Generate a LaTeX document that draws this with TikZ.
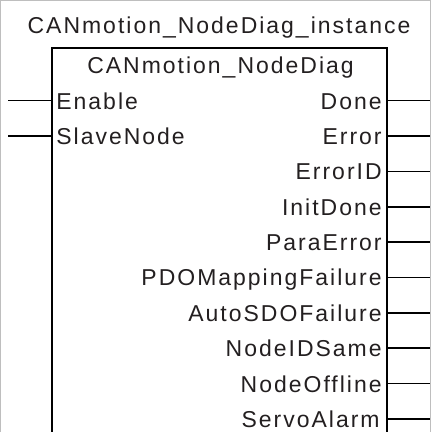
\documentclass[tikz,border=0pt]{standalone}
\usepackage{fontspec}
\setmainfont{Liberation Sans}[LetterSpace=8.7]
\usetikzlibrary{positioning}

\definecolor{fbtext}{RGB}{35,31,32}
\definecolor{fbedge}{RGB}{190,190,190}

\tikzset{
    fb_font/.style={font=\fontsize{23}{25}\selectfont, text=fbtext, inner sep=0pt},
    fb_pin/.style={line width=1.6pt, black},
    fb_box/.style={line width=1.6pt, black}
}

\begin{document}
\begin{tikzpicture}[x=1pt,y=-1pt]

% cornice
\draw[fbedge, line width=0.4pt] (0,0) rectangle (430,432);
\useasboundingbox (0,0) rectangle (430,432);

% nomi
\node[fb_font, anchor=base] (inst) at (219,33.3) {CANmotion\_NodeDiag\_instance};
\node[fb_font, anchor=base] (fbname) at (220.5,73.3) {CANmotion\_NodeDiag};

% blocco
\coordinate (tl) at (52,48);
\coordinate (tr) at (387,48);
\coordinate (bl) at (52,440);
\coordinate (br) at (387,440);
\draw[fb_box] (bl) -- (tl) -- (tr) -- (br);

% ingressi
\node[fb_font, anchor=base west] (enable) at (56,109.5) {Enable};
\coordinate (enable_in) at (8,100.5);
\draw[fb_pin] (enable_in) -- (enable_in -| tl);

\node[fb_font, anchor=base west] (slave) at (56,144.9) {SlaveNode};
\coordinate (slave_in) at (8,135.9);
\draw[fb_pin] (slave_in) -- (slave_in -| tl);

% uscite
\foreach \lab/\y/\xe/\nm in {Done/100.5/382/done, Error/135.9/382/error,
    ErrorID/171.3/382/errid, InitDone/206.7/382/initdone,
    ParaError/242.1/382/paraerr, PDOMappingFailure/277.5/382/pdo,
    AutoSDOFailure/312.9/382/autosdo, NodeIDSame/348.3/382/idsame,
    NodeOffline/383.7/382/offline, ServoAlarm/419.1/380/servo}{
    \node[fb_font, anchor=base east] (\nm) at (\xe,\y+8.5) {\lab};
    \coordinate (\nm_out) at (430,\y);
    \draw[fb_pin] (\nm_out -| tr) -- (\nm_out);
}

\end{tikzpicture}
\end{document}
